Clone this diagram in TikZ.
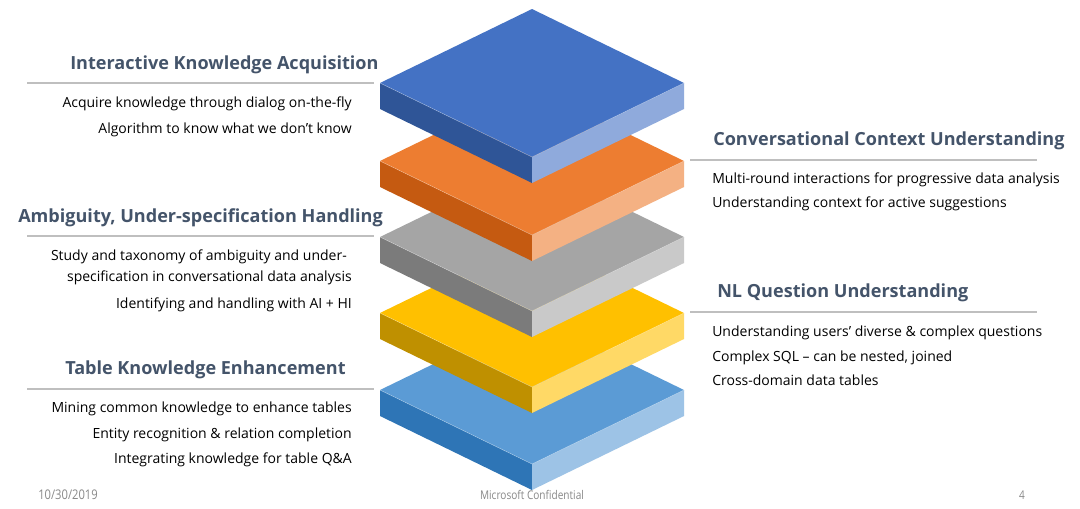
\documentclass[tikz,border=0pt]{standalone}
\usepackage{fontspec}
\setmainfont{Open Sans}
\newfontfamily\footfont[FakeStretch=0.84]{Open Sans}
\definecolor{headc}{HTML}{44546A}
\definecolor{rulec}{HTML}{BFBFBF}
\definecolor{footc}{HTML}{898989}
\definecolor{bTop}{HTML}{4472C4}\definecolor{bL}{HTML}{2F5597}\definecolor{bR}{HTML}{8FAADC}
\definecolor{oTop}{HTML}{ED7D31}\definecolor{oL}{HTML}{C55A11}\definecolor{oR}{HTML}{F4B183}
\definecolor{gTop}{HTML}{A5A5A5}\definecolor{gL}{HTML}{7B7B7B}\definecolor{gR}{HTML}{C9C9C9}
\definecolor{yTop}{HTML}{FFC000}\definecolor{yL}{HTML}{BF9000}\definecolor{yR}{HTML}{FFD966}
\definecolor{lTop}{HTML}{5B9BD5}\definecolor{lL}{HTML}{2E75B6}\definecolor{lR}{HTML}{9DC3E6}
\newcommand\drawslab[4]{%
  \fill[#3] (380,#1) -- (532,{#1+74}) -- (532,{#1+100}) -- (380,{#1+26}) -- cycle;
  \fill[#4] (684,#1) -- (532,{#1+74}) -- (532,{#1+100}) -- (684,{#1+26}) -- cycle;
  \fill[#2] (380,#1) -- (532,{#1-74}) -- (684,#1) -- (532,{#1+74}) -- cycle;
  \draw[white,opacity=0.35,line width=0.4pt] (380,#1) -- (532,{#1+74}) -- (684,#1);
}
\tikzset{
  heading/.style={font=\fontsize{13.55pt}{16pt}\selectfont\bfseries, text=headc, inner sep=0pt},
  bodyl/.style={font=\fontsize{10.5pt}{15.5pt}\selectfont, text=black, inner sep=0pt, anchor=mid east, align=right},
  bodyr/.style={font=\fontsize{10.5pt}{15.5pt}\selectfont, text=black, inner sep=0pt, anchor=mid west, align=left},
  rulel/.style={draw=rulec, line width=2pt},
  foot/.style={font=\footfont\fontsize{9pt}{10pt}\selectfont, text=footc, inner sep=0pt, anchor=mid}
}
\begin{document}
\begin{tikzpicture}[x=0.75pt,y=-0.75pt]
\useasboundingbox (0,0) rectangle (1080,508);
\fill[white] (0,0) rectangle (1080,508);
% slabs, bottom first
\drawslab{390}{lTop}{lL}{lR}
\drawslab{313}{yTop}{yL}{yR}
\drawslab{237}{gTop}{gL}{gR}
\drawslab{161}{oTop}{oL}{oR}
\drawslab{83}{bTop}{bL}{bR}
% left: Interactive Knowledge Acquisition
\node[heading, anchor=mid west] (h1) at (70,66) {Interactive Knowledge Acquisition};
\coordinate (r1a) at (27,83); \coordinate (r1b) at (374,83);
\draw[rulel] (r1a) -- (r1b);
\node[bodyl] (b1a) at (352,104) {Acquire knowledge through dialog on-the-fly};
\node[bodyl] (b1b) at (352,130) {Algorithm to know what we don’t know};
% left: Ambiguity
\node[heading, anchor=mid west] (h3) at (18,219) {Ambiguity, Under-specification Handling};
\coordinate (r3a) at (27,236); \coordinate (r3b) at (374,236);
\draw[rulel] (r3a) -- (r3b);
\node[bodyl] (b3a) at (347,257) {Study and taxonomy of ambiguity and under-};
\node[bodyl] (b3b) at (352,278) {specification in conversational data analysis};
\node[bodyl] (b3c) at (352,305) {Identifying and handling with AI + HI};
% left: Table Knowledge Enhancement
\node[heading, anchor=mid west] (h5) at (65,371) {Table Knowledge Enhancement};
\coordinate (r5a) at (27,389); \coordinate (r5b) at (374,389);
\draw[rulel] (r5a) -- (r5b);
\node[bodyl] (b5a) at (352,409) {Mining common knowledge to enhance tables};
\node[bodyl] (b5b) at (352,435) {Entity recognition \& relation completion};
\node[bodyl] (b5c) at (352,460) {Integrating knowledge for table Q\&A};
% right: Conversational Context Understanding
\node[heading, anchor=mid west] (h2) at (713,142) {Conversational Context Understanding};
\coordinate (r2a) at (690,160); \coordinate (r2b) at (1037,160);
\draw[rulel] (r2a) -- (r2b);
\node[bodyr] (b2a) at (712,180) {Multi-round interactions for progressive data analysis};
\node[bodyr] (b2b) at (712,204) {Understanding context for active suggestions};
% right: NL Question Understanding
\node[heading, anchor=mid west] (h4) at (717,294) {NL Question Understanding};
\coordinate (r4a) at (690,312); \coordinate (r4b) at (1037,312);
\draw[rulel] (r4a) -- (r4b);
\node[bodyr] (b4a) at (712,333) {Understanding users’ diverse \& complex questions};
\node[bodyr] (b4b) at (712,358) {Complex SQL – can be nested, joined};
\node[bodyr] (b4c) at (712,382) {Cross-domain data tables};
% footer
\node[foot, font=\footfont\fontsize{10pt}{11pt}\selectfont] (fd) at (68,496) {10/30/2019};
\node[foot] (fc) at (532,496) {Microsoft Confidential};
\node[foot] (fp) at (1022,496) {4};
\end{tikzpicture}
\end{document}
